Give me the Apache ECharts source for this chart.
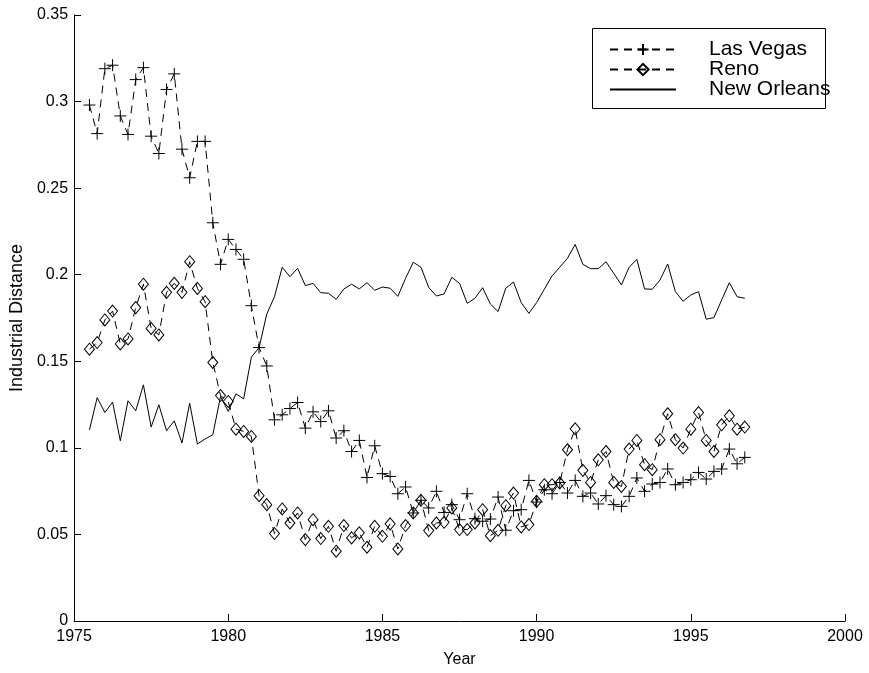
<!DOCTYPE html>
<html>
<head>
<meta charset="utf-8">
<script src="https://cdn.jsdelivr.net/npm/echarts@6/dist/echarts.min.js"></script>
<style>
html,body{margin:0;padding:0;background:#fff;}
#chart{width:869px;height:673px;}
</style>
</head>
<body>
<div id="chart"></div>
<script>
const years = [
  1975.5, 1975.75, 1976.0, 1976.25, 1976.5, 1976.75, 1977.0, 1977.25, 1977.5, 1977.75,
  1978.0, 1978.25, 1978.5, 1978.75, 1979.0, 1979.25, 1979.5, 1979.75, 1980.0, 1980.25,
  1980.5, 1980.75, 1981.0, 1981.25, 1981.5, 1981.75, 1982.0, 1982.25, 1982.5, 1982.75,
  1983.0, 1983.25, 1983.5, 1983.75, 1984.0, 1984.25, 1984.5, 1984.75, 1985.0, 1985.25,
  1985.5, 1985.75, 1986.0, 1986.25, 1986.5, 1986.75, 1987.0, 1987.25, 1987.5, 1987.75,
  1988.0, 1988.25, 1988.5, 1988.75, 1989.0, 1989.25, 1989.5, 1989.75, 1990.0, 1990.25,
  1990.5, 1990.75, 1991.0, 1991.25, 1991.5, 1991.75, 1992.0, 1992.25, 1992.5, 1992.75,
  1993.0, 1993.25, 1993.5, 1993.75, 1994.0, 1994.25, 1994.5, 1994.75, 1995.0, 1995.25,
  1995.5, 1995.75, 1996.0, 1996.25, 1996.5, 1996.75
];
const lasVegas = [
  0.298, 0.2815, 0.319, 0.321, 0.2917, 0.281, 0.3127, 0.3196, 0.280, 0.270,
  0.307, 0.316, 0.2725, 0.256, 0.277, 0.277, 0.230, 0.206, 0.2204, 0.2146,
  0.2089, 0.1821, 0.1579, 0.1473, 0.1162, 0.1191, 0.1227, 0.1262, 0.1114, 0.1208,
  0.1152, 0.1214, 0.1057, 0.1099, 0.0979, 0.1043, 0.0829, 0.1012, 0.0851, 0.0835,
  0.0735, 0.0774, 0.0624, 0.0697, 0.0653, 0.0749, 0.0627, 0.0672, 0.0585, 0.0735,
  0.0591, 0.0576, 0.0589, 0.0716, 0.0524, 0.0637, 0.0643, 0.0812, 0.0687, 0.0758,
  0.0735, 0.0800, 0.0739, 0.0812, 0.0720, 0.0739, 0.0676, 0.0724, 0.0672, 0.0662,
  0.0720, 0.0826, 0.0749, 0.0791, 0.0800, 0.0878, 0.0787, 0.0800, 0.0816, 0.0858,
  0.0820, 0.0864, 0.0878, 0.0993, 0.0908, 0.0945
];
const reno = [
  0.157, 0.1608, 0.1739, 0.179, 0.160, 0.1629, 0.181, 0.1945, 0.169, 0.1652,
  0.1898, 0.195, 0.1898, 0.2075, 0.1921, 0.1844, 0.1493, 0.1302, 0.1268, 0.1108,
  0.1095, 0.1066, 0.0724, 0.0672, 0.0505, 0.0647, 0.0566, 0.0624, 0.047, 0.0585,
  0.0476, 0.0547, 0.0403, 0.0551, 0.048, 0.0509, 0.0426, 0.0547, 0.0489, 0.0561,
  0.0416, 0.0551, 0.0624, 0.0697, 0.0522, 0.0566, 0.057, 0.0653, 0.0528, 0.0528,
  0.0566, 0.0643, 0.0493, 0.0524, 0.0666, 0.0739, 0.0543, 0.0557, 0.0691, 0.0787,
  0.0787, 0.0797, 0.0989, 0.111, 0.087, 0.080, 0.0931, 0.0979, 0.080, 0.0777,
  0.0993, 0.1043, 0.0903, 0.0874, 0.1047, 0.1197, 0.1047, 0.0999, 0.1108, 0.1204,
  0.1043, 0.0979, 0.1133, 0.1185, 0.1108, 0.112
];
const newOrleans = [
  0.1104, 0.129, 0.1204, 0.1264, 0.1041, 0.1272, 0.1214, 0.1364, 0.112, 0.1249,
  0.1099, 0.1156, 0.1028, 0.1258, 0.1022, 0.1051, 0.1076, 0.1297, 0.121, 0.1312,
  0.1283, 0.1524, 0.1579, 0.1773, 0.1873, 0.2043, 0.1988, 0.2037, 0.1937, 0.195,
  0.1896, 0.1893, 0.1858, 0.1918, 0.1945, 0.1918, 0.1954, 0.191, 0.1929, 0.1922,
  0.1875, 0.1979, 0.2072, 0.2043, 0.1927, 0.1877, 0.1889, 0.1985, 0.195, 0.1835,
  0.1864, 0.1925, 0.1831, 0.1787, 0.1922, 0.1958, 0.1839, 0.1777, 0.1839, 0.1916,
  0.1993, 0.2043, 0.2095, 0.2175, 0.206, 0.2035, 0.2035, 0.2075, 0.2008, 0.1941,
  0.2043, 0.2089, 0.1918, 0.1916, 0.1969, 0.2062, 0.1902, 0.1847, 0.1883, 0.1902,
  0.1743, 0.1752, 0.1854, 0.1954, 0.1873, 0.1864
];
const seriesNames = ['Las Vegas', 'Reno', 'New Orleans'];
const xTickLabels = ['1975', '1980', '1985', '1990', '1995', '2000'];
const yTickLabels = ['0', '0.05', '0.1', '0.15', '0.2', '0.25', '0.3', '0.35'];

const FONT = 'Liberation Sans, Arial, Helvetica, sans-serif';
const pair = (vals) => vals.map((v, i) => [years[i], v]);
const plusPath = 'path://M0,6L12,6M6,0L6,12';
const DASH = [8, 6];

const chart = echarts.init(document.getElementById('chart'), null, {renderer: 'canvas'});
chart.setOption({
  animation: false,
  backgroundColor: '#fff',
  textStyle: {fontFamily: FONT, color: '#000'},
  grid: {left: 72, right: 24, top: 15, bottom: 52, containLabel: false},
  xAxis: {
    type: 'value', min: 1975, max: 2000, interval: 5,
    name: 'Year', nameLocation: 'middle', nameGap: 31,
    nameTextStyle: {fontFamily: FONT, fontSize: 16, color: '#000'},
    axisLine: {show: true, onZero: false, lineStyle: {color: '#000', width: 1}},
    axisTick: {show: true, inside: true, length: 7, lineStyle: {color: '#000'}},
    axisLabel: {
      fontFamily: FONT, fontSize: 16, color: '#000', margin: 8,
      formatter: (v) => xTickLabels[Math.round((v - 1975) / 5)]
    },
    splitLine: {show: false}
  },
  yAxis: {
    type: 'value', min: 0, max: 0.35, interval: 0.05,
    name: 'Industrial Distance', nameLocation: 'middle', nameGap: 34, nameRotate: 90,
    nameTextStyle: {fontFamily: FONT, fontSize: 18, color: '#000'},
    axisLine: {show: true, onZero: false, lineStyle: {color: '#000', width: 1}},
    axisTick: {show: true, inside: true, length: 7, lineStyle: {color: '#000'}},
    axisLabel: {
      fontFamily: FONT, fontSize: 16, color: '#000', margin: 6,
      formatter: (v) => yTickLabels[Math.round(v / 0.05)]
    },
    splitLine: {show: false}
  },
  legend: {
    orient: 'vertical', left: 604, top: 34,
    itemWidth: 66, itemHeight: 14, itemGap: -1,
    data: [
      {name: seriesNames[0]},
      {name: seriesNames[1]},
      {name: seriesNames[2], itemStyle: {color: 'rgba(0,0,0,0)', borderColor: 'rgba(0,0,0,0)', borderWidth: 0}}
    ],
    textStyle: {fontFamily: FONT, fontSize: 21, color: '#000', lineHeight: 19, padding: [0, 0, 0, 28]},
    selectedMode: false
  },
  graphic: [{
    type: 'rect', left: 592, top: 28, z: -1,
    shape: {width: 233, height: 80},
    style: {fill: '#fff', stroke: '#000', lineWidth: 1}
  }],
  series: [
    {
      name: seriesNames[0], type: 'line', data: pair(lasVegas),
      symbol: plusPath, symbolSize: 12, showAllSymbol: true,
      lineStyle: {color: '#000', width: 1, type: DASH},
      itemStyle: {color: 'rgba(0,0,0,0)', borderColor: '#000', borderWidth: 1},
      emphasis: {disabled: true}, silent: true, z: 3
    },
    {
      name: seriesNames[1], type: 'line', data: pair(reno),
      symbol: 'diamond', symbolSize: [10, 12], showAllSymbol: true,
      lineStyle: {color: '#000', width: 1, type: DASH},
      itemStyle: {color: 'rgba(0,0,0,0)', borderColor: '#000', borderWidth: 1},
      emphasis: {disabled: true}, silent: true, z: 3
    },
    {
      name: seriesNames[2], type: 'line', data: pair(newOrleans),
      symbol: 'none',
      lineStyle: {color: '#000', width: 1, type: 'solid'},
      itemStyle: {color: '#000'},
      emphasis: {disabled: true}, silent: true, z: 3
    }
  ]
});
</script>
</body>
</html>
